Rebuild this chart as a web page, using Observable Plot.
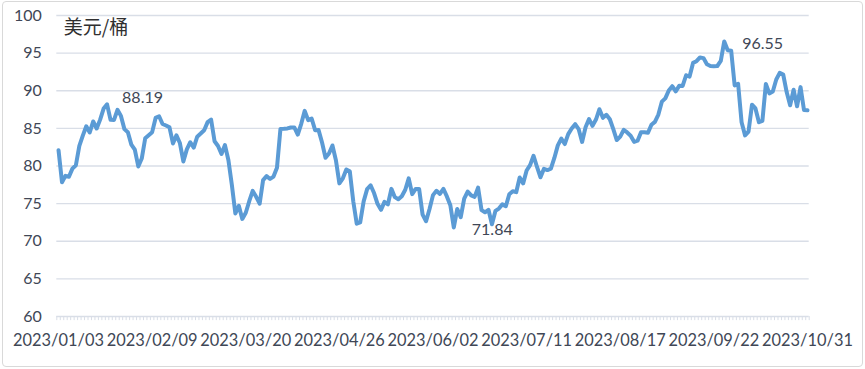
<!DOCTYPE html>
<html>
<head>
<meta charset="utf-8">
<script src="https://cdn.jsdelivr.net/npm/d3@7"></script>
<script src="https://cdn.jsdelivr.net/npm/@observablehq/plot@0.6"></script>
<style>
  html, body { margin: 0; padding: 0; background: #fff; }
  #wrap { position: relative; width: 865px; height: 369px; }
  #border { position: absolute; left: 2px; top: 1px; right: 2px; bottom: 2px; border: 1px solid #d9d9d9; border-radius: 4px; pointer-events: none; }
</style>
</head>
<body>
<div id="wrap"><div id="border"></div></div>
<script>
// Brent price, USD/barrel, daily (2023/01/03 – 2023/10/31)
const jan = [82.10, 77.84, 78.69, 78.57, 79.65, 80.10, 82.67, 84.03, 85.28, 84.46, 85.92, 84.98, 86.16, 87.63, 88.19, 86.13, 86.12, 87.47, 86.66, 84.90, 84.49];
const feb = [82.84, 82.17, 79.94, 80.99, 83.69, 84.09, 84.50, 86.39, 86.61, 85.58, 85.38, 85.14, 83.00, 84.07, 83.05, 80.60, 82.21, 83.16, 82.45, 83.89];
const mar = [84.31, 84.75, 85.83, 86.18, 83.29, 82.66, 81.59, 82.78, 80.77, 77.45, 73.69, 74.70, 72.97, 73.79, 75.32, 76.69, 75.91, 74.99, 78.12, 78.65, 78.28, 78.60, 79.77];
const apr = [84.93, 84.94, 84.99, 85.12, 85.12, 84.18, 85.61, 87.33, 86.09, 86.31, 84.76, 84.77, 83.12, 81.10, 81.66, 82.73, 80.77, 77.69, 78.37, 79.54];
const may = [79.31, 75.32, 72.33, 72.50, 75.30, 76.93, 77.44, 76.41, 74.98, 74.17, 75.23, 74.91, 76.96, 75.86, 75.58, 75.99, 76.84, 78.36, 76.26, 76.95, 76.95, 73.54, 72.66];
const jun = [74.28, 76.13, 76.71, 76.29, 76.95, 75.96, 74.79, 71.84, 74.29, 73.20, 75.67, 76.61, 76.09, 75.90, 77.12, 74.14, 73.85, 74.18, 72.26, 74.03, 74.34, 74.90];
const jul = [74.65, 76.25, 76.65, 76.52, 78.47, 77.69, 79.40, 80.11, 81.36, 79.87, 78.50, 79.63, 79.46, 79.64, 81.07, 82.74, 83.64, 82.92, 84.24, 84.99, 85.56];
const aug = [84.91, 83.20, 85.14, 86.24, 85.34, 86.17, 87.55, 86.40, 86.81, 86.21, 84.89, 83.45, 83.91, 84.80, 84.46, 84.03, 83.21, 83.36, 84.48, 84.48, 84.42, 85.49, 85.86, 86.83];
const sep = [88.55, 88.99, 90.04, 90.60, 89.92, 90.65, 90.64, 92.06, 91.88, 93.70, 93.93, 94.43, 94.34, 93.53, 93.30, 93.27, 93.29, 93.96, 96.55, 95.38, 95.31];
const oct = [90.71, 90.92, 85.81, 84.07, 84.58, 88.15, 87.65, 85.82, 86.00, 90.89, 89.65, 89.90, 91.50, 92.38, 92.16, 89.83, 88.07, 90.13, 87.93, 90.48, 87.45, 87.41];

const tickLabels = ["2023/01/03", "2023/02/09", "2023/03/20", "2023/04/26", "2023/06/02", "2023/07/11", "2023/08/17", "2023/09/22", "2023/10/31"];
const labelStep = 27;
const yTicks = [60, 65, 70, 75, 80, 85, 90, 95, 100];
const annotated = [88.19, 71.84, 96.55];
const unitLabel = "美元/桶";

const values = [...jan, ...feb, ...mar, ...apr, ...may, ...jun, ...jul, ...aug, ...sep, ...oct];
const data = values.map((v, i) => ({i, v}));
const ann = annotated.map(a => data.find(d => d.v === a));
const tickIdx = d3.range(values.length + 1).map(i => i - 0.5);

const textColor = "#404756";
const gridColor = "#d9dee7";

const chart = Plot.plot({
  width: 865,
  height: 369,
  marginLeft: 56.3,
  marginRight: 56.3,
  marginTop: 15,
  marginBottom: 53,
  style: {fontFamily: "Lato, sans-serif", fontSize: "16px", color: textColor, background: "transparent"},
  x: {domain: [-0.5, values.length - 0.5]},
  y: {domain: [60, 100]},
  marks: [
    Plot.gridY(yTicks, {stroke: gridColor, strokeOpacity: 1, strokeWidth: 1.3}),
    Plot.ruleX(tickIdx, {x: d => d, y1: 60, y2: 59.45, stroke: gridColor, strokeWidth: 1}),
    Plot.axisY({ticks: yTicks, tickSize: 0, tickPadding: 15, label: null, fontSize: 16}),
    Plot.axisX({
      ticks: tickLabels.map((_, k) => k * labelStep),
      tickFormat: d => tickLabels[d / labelStep],
      tickSize: 0, tickPadding: 17.5, label: null, fontSize: 16.4
    }),
    Plot.lineY(data, {x: "i", y: "v", stroke: "#5B9BD5", strokeWidth: 4, strokeLinejoin: "round", strokeLinecap: "round"}),
    Plot.text(ann.slice(0, 1), {x: "i", y: "v", text: d => d.v.toFixed(2), textAnchor: "start", dx: 15, dy: -6, fill: textColor, fontSize: 16}),
    Plot.text(ann.slice(1), {x: "i", y: "v", text: d => d.v.toFixed(2), textAnchor: "start", dx: 18, dy: 2, fill: textColor, fontSize: 16}),
    Plot.text([unitLabel], {frameAnchor: "top-left", text: d => d, textAnchor: "start", lineAnchor: "top", dx: 7, dy: 5, fontSize: 19, fill: "#303030", fontFamily: "'Noto Sans CJK SC', sans-serif"})
  ]
});
document.getElementById("wrap").prepend(chart);
</script>
</body>
</html>
